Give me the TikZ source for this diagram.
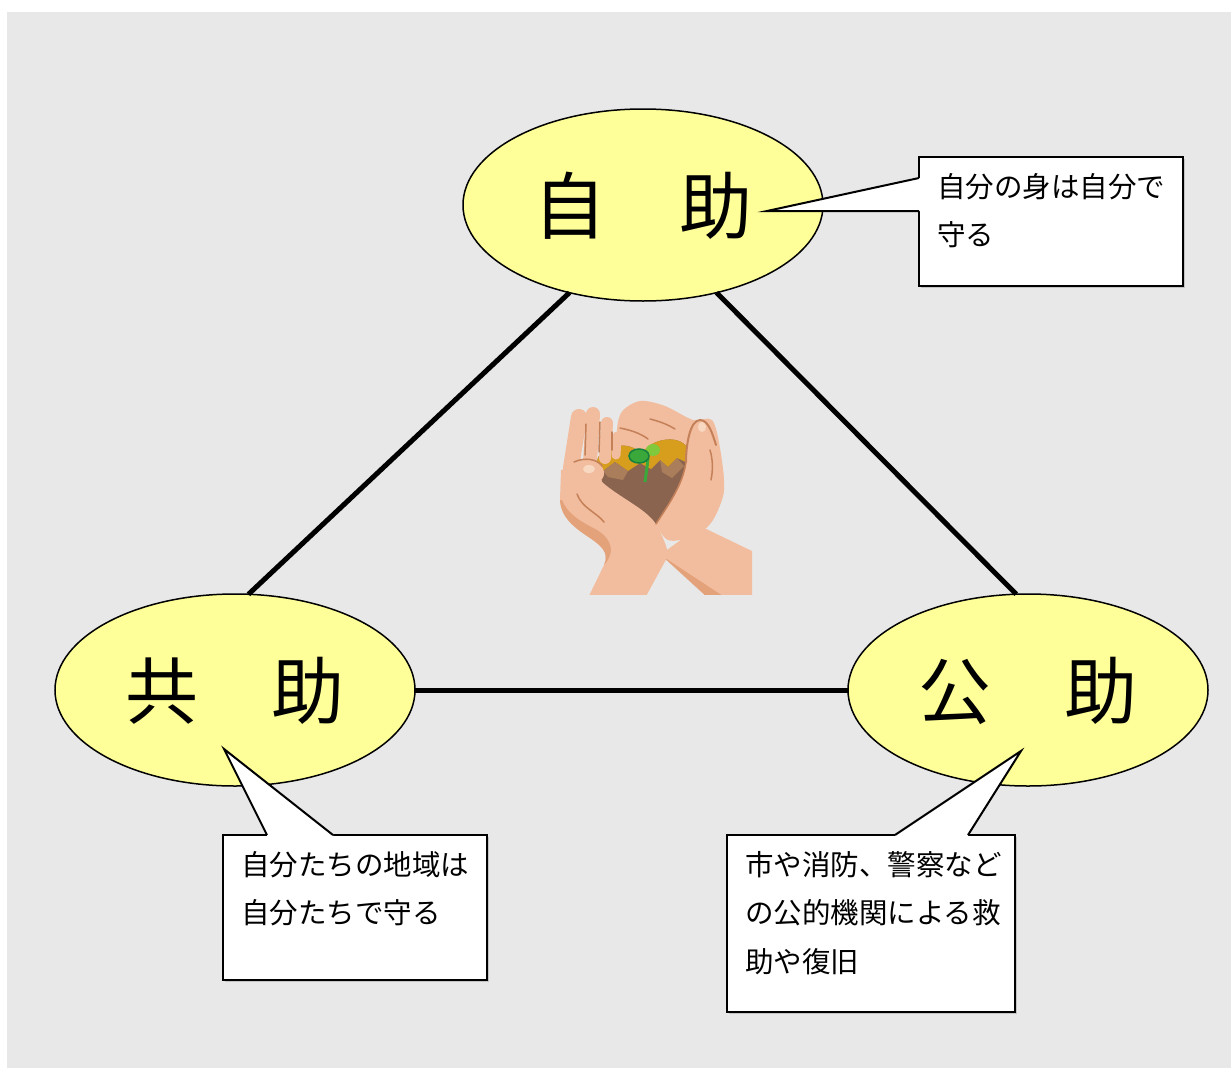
\documentclass[tikz,border=0pt]{standalone}
\usepackage{fontspec}
\setmainfont{Noto Sans CJK JP}
\usepackage{tikz}
\usetikzlibrary{calc,shapes.geometric,shadows}

\definecolor{bggray}{RGB}{232,232,232}
\definecolor{pale}{RGB}{255,255,153}
\definecolor{skin}{RGB}{242,189,158}
\definecolor{skinlight}{RGB}{249,216,194}
\definecolor{skinshade}{RGB}{228,162,122}
\definecolor{skinline}{RGB}{196,128,88}
\definecolor{soil}{RGB}{139,100,80}
\definecolor{soillight}{RGB}{170,126,90}
\definecolor{ochre}{RGB}{214,158,28}
\definecolor{leaf}{RGB}{58,168,58}
\definecolor{leafdark}{RGB}{22,128,62}
\definecolor{leaflight}{RGB}{128,200,60}

\def\helpnode{\node[ellipse,draw=black,line width=1.5pt,fill=pale,minimum width=360pt,minimum height=192pt,inner sep=0pt,outer sep=0pt,text height=62pt,text depth=5pt,font=\fontsize{73}{80}\selectfont]}
\def\drawside{\draw[line width=5pt]}
\def\notebox{\node[draw=black,line width=2pt,fill=white,inner sep=0pt,outer sep=0pt,anchor=north west,drop shadow={shadow xshift=1.5pt,shadow yshift=-1.5pt,opacity=0.35}]}
\def\notetext{\node[anchor=north west,align=left,inner sep=0pt,font=\fontsize{28.5}{48.5}\selectfont]}
\def\crease{\draw[skinline,line width=1.5pt,line cap=round]}

\begin{document}
\begin{tikzpicture}[x=1pt,y=-1pt]
\useasboundingbox (0,0) rectangle (1231,1068);
\fill[bggray] (7,12) rectangle (1231,1068);

% -------- the three kinds of help ---------
\helpnode (jijo) at (643,205) {自　助};
\helpnode (kyojo) at (235,690) {共　助};
\helpnode (kojo) at (1028,690) {公　助};

\drawside (jijo.-130.8) -- (kyojo.82.9);
\drawside (jijo.-50.3) -- (kojo.97.1);
\drawside (kyojo.east) -- (kojo.west);

% -------- hands holding the seedling ---------
\begin{scope}
\clip (550,396) rectangle (752,594);
% right forearm, running off to the right
\fill[skin] (700,526) -- (754,552) -- (754,598) -- (722,598) -- (660,555) -- cycle;
\fill[skinshade] (662,556) -- (726,598) -- (708,598) -- cycle;
% right hand, fingers curled over the top
\fill[skin] plot[smooth cycle] coordinates {(618,440) (621,413) (640,401) (665,406) (693,420) (712,420) (720,448) (724,490) (713,520) (696,535) (668,540) (652,515) (640,470)};
\crease (620,428) .. controls (630,430) and (640,433) .. (648,439);
\crease (650,419) .. controls (658,421) and (667,424) .. (675,429);
% the heart of soil
\fill[soil] (656,524) .. controls (625,505) and (596,490) .. (597,462) .. controls (598,446) and (630,438) .. (642,455) .. controls (648,438) and (684,432) .. (689,452) .. controls (693,472) and (672,500) .. (656,524) -- cycle;
\fill[ochre] (597,462) .. controls (598,446) and (630,438) .. (642,455) .. controls (648,438) and (684,432) .. (689,452) -- (688,463) -- (677,458) -- (668,467) -- (660,460) -- (651,469) -- (640,463) -- (628,471) -- (615,462) -- (603,471) -- cycle;
\fill[soillight] (603,471) -- (615,462) -- (628,471) -- (623,480) -- (608,477) -- cycle;
\fill[soillight] (660,460) -- (668,467) -- (677,458) -- (684,466) -- (672,478) -- (662,472) -- cycle;
% left hand fingers
\draw[skin,line cap=round,line width=16pt] (571,468) -- (579,417);
\draw[skin,line cap=round,line width=14pt] (590,462) -- (593,414);
\draw[skin,line cap=round,line width=12pt] (605,458) -- (607,423);
\draw[skin,line cap=round,line width=9pt] (616,455) -- (617,436);
\crease (586,424) -- (585,455);
\crease (600,422) -- (599,452);
\crease (612,432) -- (612,450);
% left palm and forearm
\fill[skin] (588,598) -- (604,565) .. controls (610,552) and (600,545) .. (590,538) .. controls (575,528) and (561,518) .. (560,500) -- (561,470) -- (598,462) -- (602,482) .. controls (620,498) and (645,508) .. (656,524) .. controls (662,535) and (668,548) .. (668,556) -- (645,598) -- cycle;
\fill[skinshade] (604,565) .. controls (610,552) and (600,545) .. (590,538) .. controls (575,528) and (561,518) .. (560,500) -- (562,500) .. controls (568,515) and (582,522) .. (597,530) .. controls (613,540) and (615,553) .. (604,565) -- cycle;
\crease (577,494) .. controls (582,508) and (596,512) .. (604,522);
% left thumb
\fill[skin] (574,462) .. controls (590,457) and (602,461) .. (604,472) .. controls (605,483) and (592,485) .. (578,480) -- cycle;
\fill[skinlight] (589,469) ellipse (6 and 4);
\crease (574,462) .. controls (585,457) and (597,459) .. (602,466);
% right thumb in front
\fill[skin] (688,436) .. controls (690,420) and (705,415) .. (710,428) .. controls (716,440) and (724,460) .. (724,490) .. controls (722,510) and (705,528) .. (690,535) .. controls (675,540) and (662,532) .. (656,524) .. controls (668,505) and (684,482) .. (686,460) -- cycle;
\fill[skinlight] (702,427) ellipse (4 and 5);
\draw[skinline,line width=2pt,line cap=round] (686,462) .. controls (686,445) and (690,420) .. (700,420) .. controls (708,420) and (712,432) .. (716,445);
\crease (710,450) .. controls (713,460) and (713,470) .. (711,480);
\crease (686,462) .. controls (683,485) and (668,505) .. (656,524);
% the seedling
\draw[leaf,line width=3pt] (648,458) .. controls (647,468) and (646,474) .. (645,482);
\fill[leaflight] (653,450) ellipse (7 and 6);
\filldraw[fill=leaf,draw=leafdark,line width=1.5pt] (639,456) ellipse (10 and 7);
\end{scope}

% -------- speech notes ---------
% each note is a box, its pointer is filled white over the box edge
\notebox[minimum width=264pt,minimum height=129pt] (jijonote) at (919,157) {};
\coordinate (jijotip) at (767,211);
\fill[white] ($(jijonote.north west)+(3,21)$) -- ($(jijonote.north west)+(-1,21)$) -- (jijotip) -- ($(jijonote.north west)+(-1,54)$) -- ($(jijonote.north west)+(3,54)$) -- cycle;
\draw[line width=2pt] ($(jijonote.north west)+(0,21)$) -- (jijotip) -- ($(jijonote.north west)+(0,54)$);
\notetext (jijotext) at (937,173) {自分の身は自分で\\守る};

\notebox[minimum width=264pt,minimum height=145pt] (kyojonote) at (223,835) {};
\coordinate (kyojotip) at (224,749);
\fill[white] ($(kyojonote.north west)+(44,3)$) -- ($(kyojonote.north west)+(44,-1)$) -- (kyojotip) -- ($(kyojonote.north west)+(110,-1)$) -- ($(kyojonote.north west)+(110,3)$) -- cycle;
\draw[line width=2pt] ($(kyojonote.north west)+(44,0)$) -- (kyojotip) -- ($(kyojonote.north west)+(110,0)$);
\notetext (kyojotext) at (241,851) {自分たちの地域は\\自分たちで守る};

\notebox[minimum width=288pt,minimum height=177pt] (kojonote) at (727,835) {};
\coordinate (kojotip) at (1021,751);
\fill[white] ($(kojonote.north west)+(168,3)$) -- ($(kojonote.north west)+(168,-1)$) -- (kojotip) -- ($(kojonote.north west)+(241,-1)$) -- ($(kojonote.north west)+(241,3)$) -- cycle;
\draw[line width=2pt] ($(kojonote.north west)+(168,0)$) -- (kojotip) -- ($(kojonote.north west)+(241,0)$);
\notetext (kojotext) at (745,851) {市や消防、警察など\\の公的機関による救\\助や復旧};
\end{tikzpicture}
\end{document}
